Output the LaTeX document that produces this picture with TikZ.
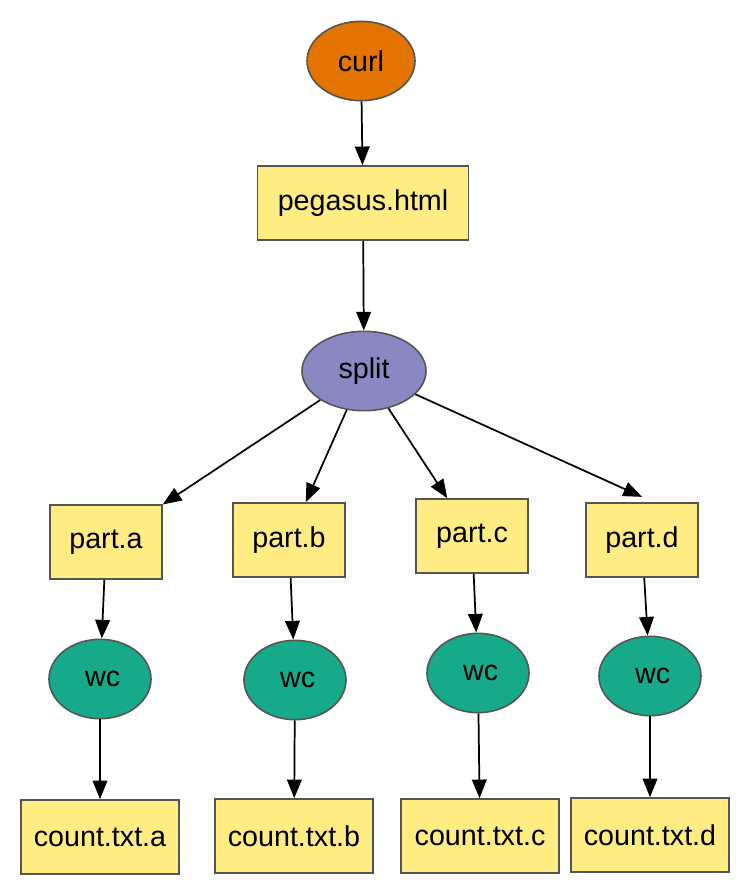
\documentclass[tikz,border=0pt]{standalone}
\usepackage{fontspec}
\setmainfont{Liberation Sans}
\usepackage{tikz}
\usetikzlibrary{arrows.meta,shapes.geometric}
\definecolor{fileyellow}{RGB}{255,236,130}
\definecolor{curlorange}{RGB}{227,116,0}
\definecolor{splitblue}{RGB}{138,136,195}
\definecolor{wcgreen}{RGB}{22,170,138}
\definecolor{rim}{RGB}{85,85,85}
\tikzset{
file/.style={draw=rim,line width=1.2pt,fill=fileyellow,rectangle,inner sep=0pt,minimum height=55.5pt},
job/.style={draw=rim,line width=1.2pt,ellipse,inner sep=0pt,minimum height=59.5pt}
}
\begin{document}
\begin{tikzpicture}[x=0.75pt,y=-0.75pt,font=\fontsize{21.5}{24}\selectfont]
\useasboundingbox (0,0) rectangle (748,894);
\node[job,fill=curlorange,minimum width=81pt] (curl) at (361,61) {curl};
\node[file,minimum width=158pt] (html) at (363,203) {pegasus.html};
\node[job,fill=splitblue,minimum width=93pt] (split) at (364,371) {split};
\node[file,minimum width=84pt] (pa) at (106,542) {part.a};
\node[file,minimum width=84pt] (pb) at (289,540) {part.b};
\node[file,minimum width=84pt] (pc) at (472,536) {part.c};
\node[file,minimum width=84pt] (pd) at (642,540) {part.d};
\node[job,fill=wcgreen,minimum width=76.5pt] (wa) at (100,679) {\hspace{4pt}wc};
\node[job,fill=wcgreen,minimum width=76.5pt] (wb) at (295,680) {\hspace{4pt}wc};
\node[job,fill=wcgreen,minimum width=76.5pt] (wcc) at (478,673) {\hspace{4pt}wc};
\node[job,fill=wcgreen,minimum width=76.5pt] (wd) at (650,676) {\hspace{4pt}wc};
\node[file,minimum width=118.5pt] (ca) at (100,837) {count.txt.a};
\node[file,minimum width=118.5pt] (cb) at (294,836) {count.txt.b};
\node[file,minimum width=118.5pt] (cc) at (480,836) {count.txt.c};
\node[file,minimum width=118.5pt] (cd) at (650,835) {count.txt.d};
\path[-{Triangle[length=14pt,width=11pt]},line width=1.3pt]
(curl) edge (html)
(html) edge (split)
(split) edge (pa)
(split) edge (pb)
(split) edge (pc)
(split) edge ([yshift=4pt]pd.north)
(pa) edge (wa)
(pb) edge (wb)
(pc) edge (wcc)
(pd) edge (wd)
(wa) edge (ca)
(wb) edge (cb)
(wcc) edge (cc)
(wd) edge (cd);
\end{tikzpicture}
\end{document}
